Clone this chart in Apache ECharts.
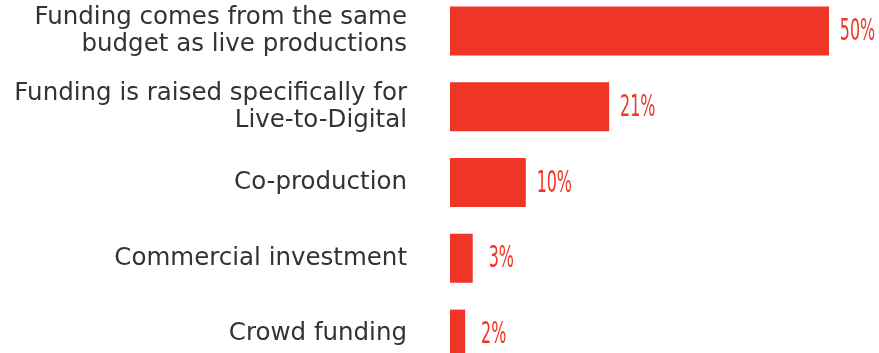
<!DOCTYPE html>
<html>
<head>
<meta charset="utf-8">
<script src="https://cdn.jsdelivr.net/npm/echarts@6/dist/echarts.min.js"></script>
<style>
  html, body { margin: 0; padding: 0; background: #ffffff; overflow: hidden; width: 879px; height: 353px; }
  /* the plot runs a little past the top and bottom edges of the page */
  #chart { position: absolute; left: 0; top: -7px; width: 879px; height: 379px; }
</style>
</head>
<body>
<div id="chart"></div>
<script>
// Sources of funding, share of respondents (%)
const categories = [
  'Funding comes from the same\nbudget as live productions',
  'Funding is raised specifically for\nLive-to-Digital',
  'Co-production',
  'Commercial investment',
  'Crowd funding'
];
const shares = [50, 21, 10, 3, 2];

const RED = '#ef3626';
const chart = echarts.init(document.getElementById('chart'), null, { renderer: 'canvas' });

chart.setOption({
  animation: false,
  grid: { left: 450, right: 50, top: 0, bottom: 0, containLabel: false },
  xAxis: {
    type: 'value', min: 0, max: 50,
    show: false
  },
  yAxis: {
    type: 'category',
    data: categories,
    inverse: true,
    axisLine: { show: false },
    axisTick: { show: false },
    splitLine: { show: false },
    axisLabel: {
      margin: 43,
      align: 'right',
      color: '#333333',
      fontFamily: 'DejaVu Sans',
      fontSize: 24.5,
      lineHeight: 27
    }
  },
  series: [
    {
      type: 'bar',
      data: shares,
      barWidth: 49,
      itemStyle: { color: RED },
      silent: true
    },
    {
      // value labels in a condensed face, centred in a fixed slot past each bar end
      type: 'custom',
      data: shares.map((v, i) => [v, i]),
      clip: false,
      silent: true,
      renderItem: function (params, api) {
        const v = api.value(0);
        const p = api.coord([v, api.value(1)]);
        return {
          type: 'text',
          x: p[0] + 28.5,
          y: p[1] + 1,
          scaleX: 0.57,
          style: {
            text: v + '%',
            fill: RED,
            font: '31px "Liberation Sans Narrow", "DejaVu Sans Condensed", sans-serif',
            align: 'center',
            verticalAlign: 'middle'
          }
        };
      }
    }
  ]
});
</script>
</body>
</html>
